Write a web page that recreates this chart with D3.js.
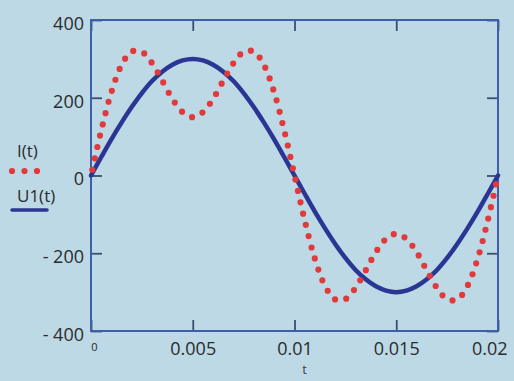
<!DOCTYPE html>
<html><head><meta charset="utf-8">
<script src="https://cdn.jsdelivr.net/npm/d3@7"></script>
<style>
html,body{margin:0;padding:0;background:#bcd9e5;}
svg{display:block;}
text{font-family:"Open Sans","Noto Sans",sans-serif;fill:#2b2b2b;}
</style></head><body>
<svg id="c" width="514" height="381"></svg>
<script>
// Sample times (s)
const tValues = [0,0.0005,0.001,0.0015,0.002,0.0025,0.003,0.0035,0.004,0.0045,0.005,
  0.0055,0.006,0.0065,0.007,0.0075,0.008,0.0085,0.009,0.0095,0.01,
  0.0105,0.011,0.0115,0.012,0.0125,0.013,0.0135,0.014,0.0145,0.015,
  0.0155,0.016,0.0165,0.017,0.0175,0.018,0.0185,0.019,0.0195,0.02];
// I(t)
const iValues = [0,115,214,284,319,318,289,244,197,163,150,
  163,197,244,289,318,319,284,214,115,0,
  -115,-214,-284,-319,-318,-289,-244,-197,-163,-150,
  -163,-197,-244,-289,-318,-319,-284,-214,-115,0];
// U1(t)
const uValues = [0,47,93,136,176,212,243,267,285,296,300,
  296,285,267,243,212,176,136,93,47,0,
  -47,-93,-136,-176,-212,-243,-267,-285,-296,-300,
  -296,-285,-267,-243,-212,-176,-136,-93,-47,0];
const xTicks = [0,0.005,0.01,0.015,0.02];
const xTickLabels = ["0","0.005","0.01","0.015","0.02"];
const yTicks = [-400,-200,0,200,400];
const yTickLabels = ["- 400","- 200","0","200","400"];
const seriesNames = ["I(t)","U1(t)"];
const xTitle = "t";

const L=91, T=20, R=498, B=331;
const svg = d3.select("#c");
const x = d3.scaleLinear().domain([0,0.02]).range([L,R]);
const y = d3.scaleLinear().domain([-400,400]).range([B,T]);

const frameColor="#3b5fab", tickColor="#3a4f6e";

// ticks (inward, on all four sides)
const gb = svg.append("g").attr("transform",`translate(0,${B})`)
  .call(d3.axisBottom(x).tickValues(xTicks).tickSize(-11).tickFormat((d,i)=>xTickLabels[i]));
const gt = svg.append("g").attr("transform",`translate(0,${T})`)
  .call(d3.axisTop(x).tickValues(xTicks).tickSize(-11).tickFormat(""));
const gl = svg.append("g").attr("transform",`translate(${L},0)`)
  .call(d3.axisLeft(y).tickValues(yTicks).tickSize(-11).tickFormat((d,i)=>yTickLabels[i]));
const gr = svg.append("g").attr("transform",`translate(${R},0)`)
  .call(d3.axisRight(y).tickValues(yTicks).tickSize(-11).tickFormat(""));
[gb,gt,gl,gr].forEach(g=>{
  g.select(".domain").remove();
  g.selectAll(".tick line").attr("stroke",tickColor).attr("stroke-width",1.8);
  g.selectAll("text").attr("font-family",null).attr("font-size",null);
});
const nx = xTicks.length;
gb.selectAll(".tick text")
  .attr("dy",null)
  .style("font-size",(d,i)=>i===0?"11px":"18px")
  .attr("text-anchor",(d,i)=>i===nx-1?"end":"middle")
  .attr("x",(d,i)=>i===0?3:(i===nx-1?9:0))
  .attr("y",(d,i)=>i===0?20:24);
gl.selectAll(".tick text")
  .attr("dy","0.35em").attr("x",-7).attr("y",3)
  .style("font-size","18px");

// frame
svg.append("rect").attr("x",L).attr("y",T).attr("width",R-L).attr("height",B-T)
  .attr("fill","none").attr("stroke",frameColor).attr("stroke-width",2);

// x title
svg.append("text").attr("x",x(0.0105)).attr("y",374)
  .attr("text-anchor","middle").style("font-size","13px").style("fill","#444").text(xTitle);

const pts = tValues.map((t,i)=>({t,i:iValues[i],u:uValues[i]}));
const lineU = d3.line().x(d=>x(d.t)).y(d=>y(d.u)).curve(d3.curveCatmullRom);
const lineI = d3.line().x(d=>x(d.t)).y(d=>y(d.i)).curve(d3.curveCatmullRom);

svg.append("path").datum(pts).attr("d",lineU).attr("fill","none")
  .attr("stroke","#2b3593").attr("stroke-width",4.5).attr("stroke-linecap","round");
svg.append("path").datum(pts).attr("d",lineI).attr("fill","none")
  .attr("stroke","#e03a3a").attr("stroke-width",6.2).attr("stroke-linecap","round")
  .attr("stroke-dasharray","0 11.6").attr("stroke-dashoffset",-6);

// legend
svg.append("text").attr("x",17).attr("y",157).style("font-size","17px").text(seriesNames[0]);
svg.append("line").attr("x1",12).attr("x2",38).attr("y1",171).attr("y2",171)
  .attr("stroke","#e03a3a").attr("stroke-width",6.2).attr("stroke-linecap","round")
  .attr("stroke-dasharray","0 12.5");
svg.append("text").attr("x",17).attr("y",202).style("font-size","17px").text(seriesNames[1]);
svg.append("line").attr("x1",12).attr("x2",47).attr("y1",210).attr("y2",210)
  .attr("stroke","#2b3593").attr("stroke-width",3.5).attr("stroke-linecap","round");
</script></body></html>
